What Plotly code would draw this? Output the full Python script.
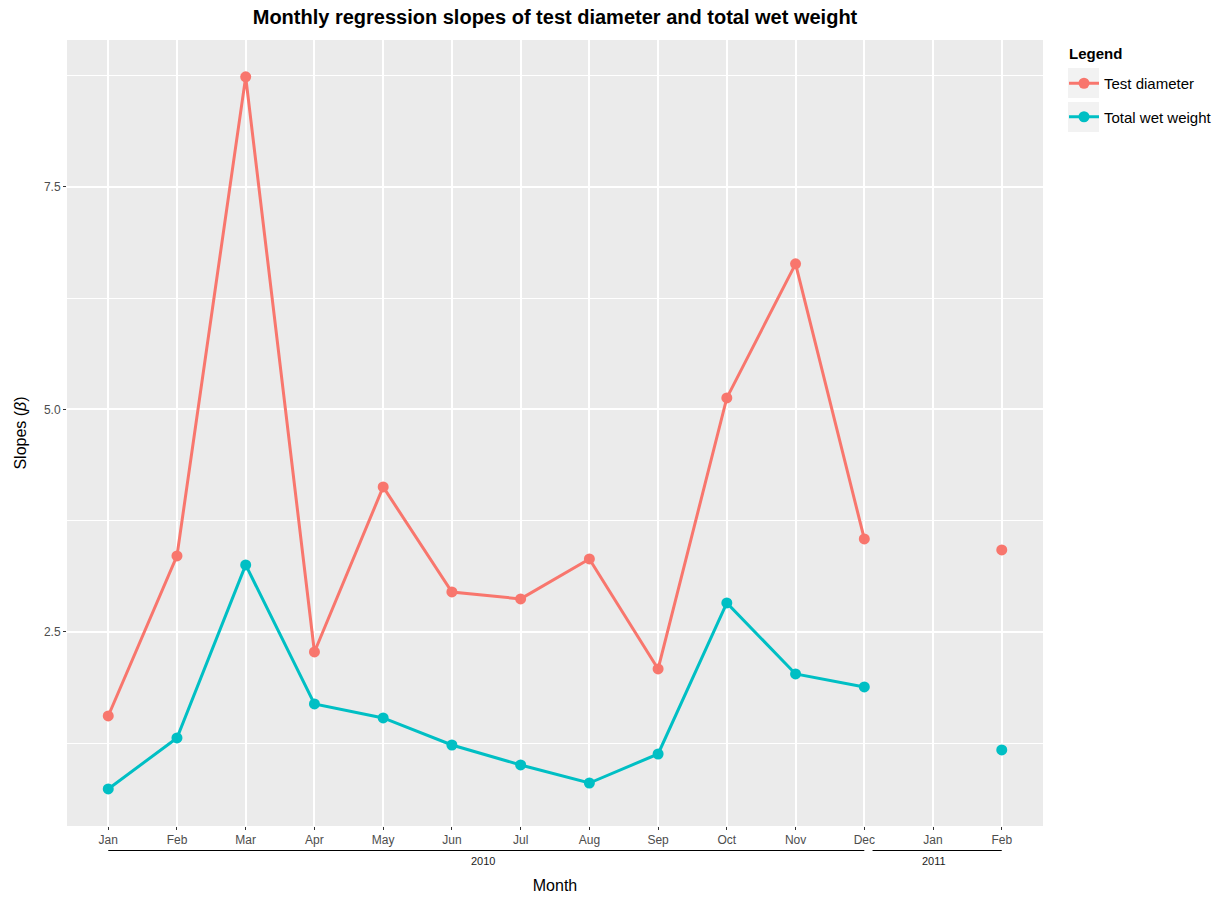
import plotly.graph_objects as go

months = ["Jan", "Feb", "Mar", "Apr", "May", "Jun", "Jul", "Aug", "Sep", "Oct", "Nov", "Dec", "Jan", "Feb"]
years = ["2010"] * 12 + ["2011"] * 2
test_diameter = [1.556, 3.354, 8.736, 2.275, 4.129, 2.949, 2.871, 3.320, 2.084, 5.129, 6.635, 3.545, None, 3.421]
total_wet_weight = [0.736, 1.309, 3.253, 1.691, 1.534, 1.230, 1.006, 0.803, 1.129, 2.826, 2.028, 1.882, None, 1.174]

FONT = "Liberation Sans, Arial, sans-serif"
RED = "#F8766D"
TEAL = "#00BFC4"

W, H = 1218, 899
L, R, T, B = 67, 175, 40, 73
PW, PH = W - L - R, H - T - B

def px_x(px):
    return (px - L) / PW

def px_y(py):
    return (H - B - py) / PH

x = list(range(len(months)))

fig = go.Figure()
fig.add_trace(go.Scatter(x=x, y=test_diameter, mode="lines+markers", name="Test diameter",
                         legendgroup="a",
                         line=dict(color=RED, width=3), marker=dict(color=RED, size=11),
                         connectgaps=False))
fig.add_trace(go.Scatter(x=x, y=total_wet_weight, mode="lines+markers", name="Total wet weight",
                         legendgroup="b",
                         line=dict(color=TEAL, width=3), marker=dict(color=TEAL, size=11),
                         connectgaps=False))

# year bracket lines and labels
groups = {}
for i, yv in enumerate(years):
    groups.setdefault(yv, []).append(i)
shapes = []
annotations = []
for k, (yv, idxs) in enumerate(groups.items()):
    x0 = (idxs[0] - 1 + 0.12) if k > 0 else idxs[0]
    x1 = idxs[-1]
    shapes.append(dict(type="line", xref="x", yref="paper", x0=x0, x1=x1, y0=px_y(850.5), y1=px_y(850.5),
                       line=dict(color="black", width=1)))
    annotations.append(dict(text=yv, xref="x", yref="paper", x=(x0 + x1) / 2 - 0.05, y=px_y(860.5),
                            yanchor="middle", showarrow=False, font=dict(family=FONT, size=11, color="#1a1a1a")))

# legend title and key backgrounds
annotations.append(dict(text="<b>Legend</b>", xref="paper", yref="paper", x=px_x(1067), y=px_y(53),
                        xanchor="left", yanchor="middle", showarrow=False,
                        font=dict(family=FONT, size=15, color="black")))
for j in range(2):
    shapes.append(dict(type="rect", xref="paper", yref="paper", layer="below",
                       x0=px_x(1068), x1=px_x(1099),
                       y0=px_y(98 + 34 * j), y1=px_y(68 + 34 * j),
                       fillcolor="#F2F2F2", line=dict(width=0)))

fig.update_layout(
    width=W, height=H,
    margin=dict(l=L, r=R, t=T, b=B, autoexpand=False),
    paper_bgcolor="white", plot_bgcolor="#EBEBEB",
    font=dict(family=FONT, color="black"),
    title=dict(text="<b>Monthly regression slopes of test diameter and total wet weight</b>",
               x=0.5, xref="paper", xanchor="center", y=1 - 17 / H, yanchor="middle",
               font=dict(size=20, color="black")),
    showlegend=True,
    legend=dict(font=dict(size=15), x=px_x(1064), xanchor="left", y=px_y(67), yanchor="top",
                bgcolor="rgba(0,0,0,0)", tracegroupgap=11),
    shapes=shapes, annotations=annotations,
    xaxis=dict(range=[-0.6, len(months) - 1 + 0.6], tickvals=x, ticktext=months, automargin=False,
               showgrid=True, gridcolor="white", gridwidth=2, zeroline=False,
               ticks="outside", ticklen=3, tickcolor="#333333", tickwidth=1,
               tickfont=dict(size=12, color="#4D4D4D"),
               title=dict(text="Month", font=dict(size=16), standoff=33)),
    yaxis=dict(range=[0.32, 9.15], tickvals=[2.5, 5.0, 7.5], ticktext=["2.5", "5.0", "7.5"], automargin=False,
               showgrid=True, gridcolor="white", gridwidth=2, zeroline=False,
               ticks="outside", ticklen=3, tickcolor="#333333", tickwidth=1,
               tickfont=dict(size=12, color="#4D4D4D"),
               minor=dict(tickvals=[1.25, 3.75, 6.25, 8.75], showgrid=True, gridcolor="white", gridwidth=1, ticks=""),
               title=dict(text="Slopes (<i>β</i>)", font=dict(size=16), standoff=13)),
)

fig.write_html("out.html", config={"displayModeBar": False},
               post_script="document.body.style.margin='0';")
